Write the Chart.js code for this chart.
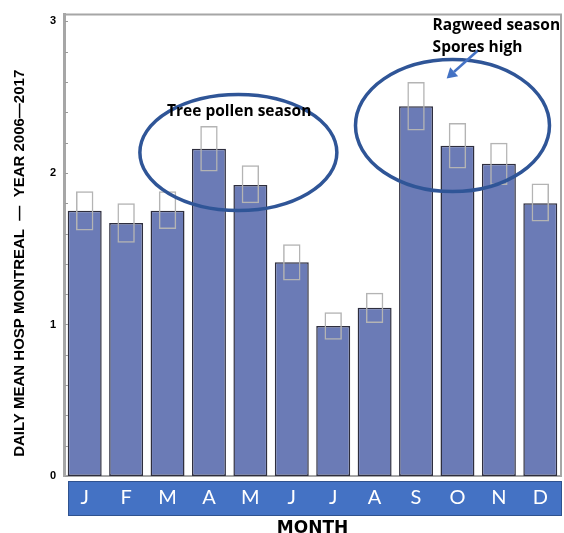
<!DOCTYPE html>
<html><head><meta charset="utf-8">
<script src="https://cdn.jsdelivr.net/npm/chart.js@4/dist/chart.umd.min.js"></script>
<style>html,body{margin:0;padding:0;background:#fff}#wrap{width:564px;height:533px;position:relative}</style>
</head><body><div id="wrap"><canvas id="c"></canvas></div>
<script>
// ---- data ----
const months = ['J','F','M','A','M','J','J','A','S','O','N','D'];
const meanHosp = [1.75, 1.67, 1.75, 2.16, 1.92, 1.41, 0.99, 1.11, 2.44, 2.18, 2.06, 1.80];
const ciLow    = [1.62, 1.54, 1.63, 2.01, 1.80, 1.29, 0.90, 1.01, 2.28, 2.03, 1.92, 1.68];
const ciHigh   = [1.88, 1.80, 1.88, 2.31, 2.05, 1.53, 1.08, 1.21, 2.60, 2.33, 2.20, 1.93];
const yTickLabels = ['0','1','2','3'];
const yMinorStep = 0.2;
const yTitle = 'DAILY MEAN HOSP MONTREAL  \u2014  YEAR 2006\u20142017';

// annotation placements (category index / value units)
const notes = {
  ellipses: [ {x:3.71, y:2.135, rx:98.5, ry:58}, {x:8.88, y:2.313, rx:97, ry:66} ],
  arrow: {x1:9.50, y1:2.81, x2:8.74, y2:2.624},
  texts: [
    {text:'Tree pollen season', x:3.73, y:2.405, align:'center'},
    {text:'Ragweed season', x:8.40, y:2.97, align:'left'},
    {text:'Spores high', x:8.40, y:2.825, align:'left'}
  ]
};

const GRAY = '#A6A6A6';

const decor = {
  id:'decor',
  beforeDraw(chart){
    const {ctx, chartArea:a, scales:{x}} = chart;
    ctx.save();
    ctx.fillStyle = '#4472C4';
    ctx.strokeStyle = '#2F528F';
    ctx.lineWidth = 1;
    const t = x.top + 5, b = x.top + 40;
    ctx.fillRect(a.left + 4, t, a.right + 1 - (a.left + 4), b - t);
    ctx.strokeRect(a.left + 4.5, t + 0.5, a.right - (a.left + 4), b - t - 1);
    ctx.restore();
  },
  afterDatasetsDraw(chart){
    const {ctx, chartArea:a, scales:{x, y}} = chart;
    ctx.save();
    // frame top/right
    ctx.strokeStyle = GRAY; ctx.lineWidth = 2;
    ctx.beginPath();
    ctx.moveTo(a.left, a.top); ctx.lineTo(a.right, a.top); ctx.lineTo(a.right, a.bottom);
    ctx.stroke();
    // minor ticks
    ctx.strokeStyle = '#9A9A9A'; ctx.lineWidth = 1;
    for (let v = 0; v <= 3.0001; v += yMinorStep) {
      const py = Math.round(y.getPixelForValue(v)) + 0.5;
      ctx.beginPath(); ctx.moveTo(a.left + 1, py); ctx.lineTo(a.left + 4, py); ctx.stroke();
    }
    // ellipses
    ctx.strokeStyle = '#2F5597'; ctx.lineWidth = 3.5;
    notes.ellipses.forEach(e => {
      ctx.beginPath();
      ctx.ellipse(x.getPixelForValue(e.x), y.getPixelForValue(e.y), e.rx, e.ry, 0, 0, Math.PI*2);
      ctx.stroke();
    });
    // arrow
    const ar = notes.arrow;
    const x1 = x.getPixelForValue(ar.x1), y1 = y.getPixelForValue(ar.y1);
    const x2 = x.getPixelForValue(ar.x2), y2 = y.getPixelForValue(ar.y2);
    const ang = Math.atan2(y2 - y1, x2 - x1);
    const hl = 10, hw = 6;
    ctx.strokeStyle = '#4472C4'; ctx.fillStyle = '#4472C4'; ctx.lineWidth = 2.5;
    ctx.beginPath(); ctx.moveTo(x1, y1);
    ctx.lineTo(x2 - Math.cos(ang)*hl, y2 - Math.sin(ang)*hl); ctx.stroke();
    ctx.beginPath();
    ctx.moveTo(x2, y2);
    ctx.lineTo(x2 - Math.cos(ang)*hl - Math.sin(ang)*hw, y2 - Math.sin(ang)*hl + Math.cos(ang)*hw);
    ctx.lineTo(x2 - Math.cos(ang)*hl + Math.sin(ang)*hw, y2 - Math.sin(ang)*hl - Math.cos(ang)*hw);
    ctx.closePath(); ctx.fill();
    // texts
    ctx.fillStyle = '#000';
    ctx.font = 'bold 15.5px "Open Sans"';
    ctx.textBaseline = 'middle';
    notes.texts.forEach(t => {
      ctx.textAlign = t.align;
      ctx.fillText(t.text, x.getPixelForValue(t.x), y.getPixelForValue(t.y));
    });
    // y axis title
    ctx.save();
    ctx.translate(20, (a.top + a.bottom) / 2 + 18);
    ctx.rotate(-Math.PI / 2);
    ctx.font = 'bold 15px "Liberation Sans"';
    ctx.textAlign = 'center';
    ctx.fillText(yTitle, 0, 0);
    ctx.restore();
    ctx.restore();
  }
};

new Chart(document.getElementById('c'), {
  type: 'bar',
  data: {
    labels: months,
    datasets: [
      {
        label: 'CI',
        data: ciLow.map((l, i) => [l, ciHigh[i]]),
        backgroundColor: 'rgba(0,0,0,0)',
        borderColor: '#B4B4B4',
        borderWidth: 1.5,
        borderSkipped: false,
        grouped: false,
        barPercentage: 0.42,
        categoryPercentage: 1,
        order: 0
      },
      {
        label: 'Daily mean hosp',
        data: meanHosp,
        backgroundColor: '#6B7BB6',
        borderColor: '#2E2E3E',
        borderWidth: 1.5,
        borderSkipped: false,
        grouped: false,
        barPercentage: 0.82,
        categoryPercentage: 1,
        order: 1
      }
    ]
  },
  options: {
    responsive: true,
    maintainAspectRatio: false,
    animation: false,
    layout: { padding: { top: 12, right: 3, left: 0, bottom: 0 } },
    plugins: { legend: { display: false }, tooltip: { enabled: false } },
    scales: {
      x: {
        grid: { display: false, drawTicks: false },
        border: { color: GRAY, width: 2 },
        ticks: { color: '#fff', font: { family: 'Lato', size: 20 }, padding: 10, maxRotation: 0, autoSkip: false },
        title: { display: true, text: 'MONTH', color: '#000',
                 font: { family: 'DejaVu Sans', weight: 'bold', size: 17, lineHeight: 1 },
                 padding: { top: 0, bottom: -4 } },
        afterFit(s) { s.height = 57; }
      },
      y: {
        min: 0, max: 3.045,
        grid: { display: false, drawTicks: false },
        border: { color: GRAY, width: 3 },
        ticks: { stepSize: 1, includeBounds: false, color: '#000',
                 font: { family: 'Liberation Sans', weight: 'bold', size: 11 }, padding: 8,
                 callback: (v) => yTickLabels[Math.round(v)] },
        afterFit(s) { s.width = 64; }
      }
    }
  },
  plugins: [decor]
});
</script></body></html>
